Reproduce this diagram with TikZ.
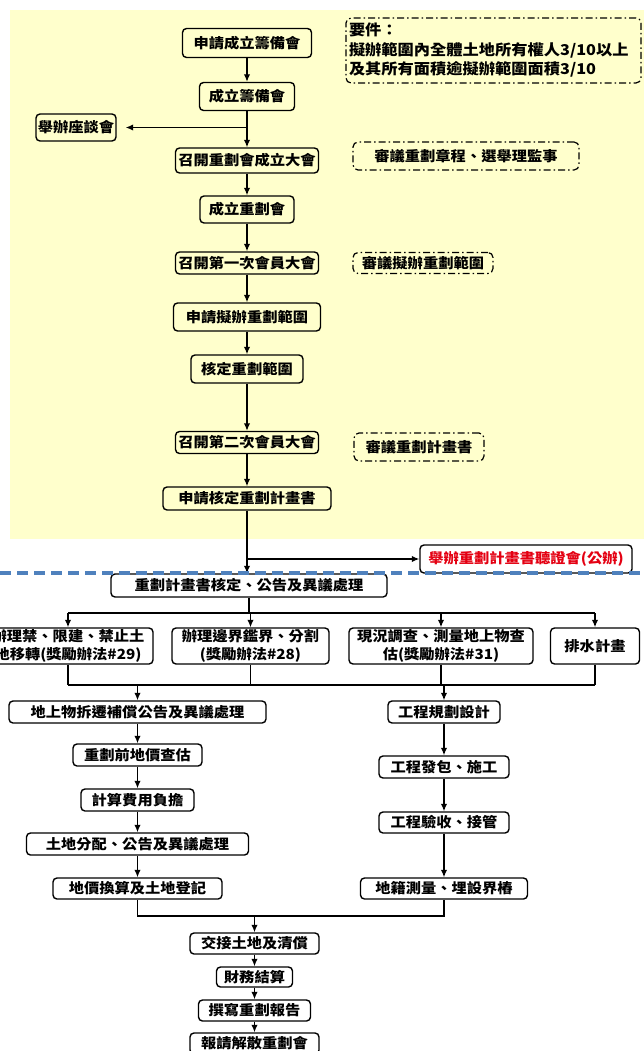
\documentclass[tikz,border=0pt]{standalone}
\usepackage{fontspec}
\setmainfont{Noto Sans CJK TC}[FakeStretch=1.09]
\usetikzlibrary{arrows.meta}
\definecolor{bgyellow}{RGB}{255,255,204}
\definecolor{dashblue}{RGB}{79,129,189}
\definecolor{hearred}{RGB}{228,0,18}
\tikzset{
  box/.style={draw, line width=1.4pt, rounded corners=4pt, inner sep=0pt, align=center,
    font=\bfseries\fontsize{14}{18}\selectfont},
  wbox/.style={box, fill=white},
  note/.style={draw, line width=1.2pt, rounded corners=5pt,
    dash pattern=on 7pt off 3pt on 1.5pt off 3pt, inner sep=0pt, align=center,
    font=\bfseries\fontsize{14}{18}\selectfont},
  arr/.style={line width=1.4pt, -{Latex[length=7.5pt,width=6.5pt]}},
  ln/.style={line width=1.4pt},
}
\begin{document}
\begin{tikzpicture}[x=1pt,y=-1pt]
\useasboundingbox (0,0) rectangle (644,1051);
\fill[bgyellow] (10,10) rectangle (644,539);

% ---- top section ----
\node[box, minimum width=129pt, minimum height=29pt] (n1) at (247,43) {申請成立籌備會};
\node[box, minimum width=95pt, minimum height=28pt] (n2) at (247,96.5) {成立籌備會};
\node[box, minimum width=80pt, minimum height=27pt] (side) at (76,127.5) {舉辦座談會};
\node[box, minimum width=143pt, minimum height=25pt] (n3) at (247,160.5) {召開重劃會成立大會};
\node[box, minimum width=94pt, minimum height=27pt] (n4) at (247,209.5) {成立重劃會};
\node[box, minimum width=143pt, minimum height=22pt] (n5) at (247,263) {召開第一次會員大會};
\node[box, minimum width=147pt, minimum height=28pt] (n6) at (247,317) {申請擬辦重劃範圍};
\node[box, minimum width=112pt, minimum height=28pt] (n7) at (247,369) {核定重劃範圍};
\node[box, minimum width=143pt, minimum height=22pt] (n8) at (247,442.5) {召開第二次會員大會};
\node[box, minimum width=168pt, minimum height=23pt] (n9) at (247,498.5) {申請核定重劃計畫書};

\node[note, minimum width=295pt, minimum height=65pt, text width=289pt, align=left,
  font=\bfseries\fontsize{14.9}{19.5}\selectfont] (note1) at (493.5,50.5)
  {要件：\\擬辦範圍內全體土地所有權人3/10以上\\及其所有面積逾擬辦範圍面積3/10};
\node[note, minimum width=226pt, minimum height=28pt] (note2) at (466,156) {審議重劃章程、選舉理監事};
\node[note, minimum width=140pt, minimum height=21pt] (note3) at (423,263) {審議擬辦重劃範圍};
\node[note, minimum width=130pt, minimum height=28pt] (note4) at (419,447) {審議重劃計畫書};

\node[wbox, minimum width=212pt, minimum height=28pt, text=hearred] (hear) at (526,559) {舉辦重劃計畫書聽證會(公辦)};

\draw[arr] (n1.south) -- (n2.north);
\draw[arr] (n2.south) -- (n3.north);
\coordinate (sb) at (n2.south |- side.east);
\draw[arr, shorten >=9pt] (sb) -- (side.east);
\draw[arr] (n3.south) -- (n4.north);
\draw[arr] (n4.south) -- (n5.north);
\draw[arr] (n5.south) -- (n6.north);
\draw[arr] (n6.south) -- (n7.north);
\draw[arr] (n7.south) -- (n8.north);
\draw[arr] (n8.south) -- (n9.north);

% ---- lower section ----
\node[wbox, minimum width=276pt, minimum height=23pt] (m1) at (249,585.5) {重劃計畫書核定、公告及異議處理};
\node[wbox, minimum width=170pt, minimum height=36pt] (a) at (68,646) {辦理禁、限建、禁止土\\地移轉(獎勵辦法\#29)};
\node[wbox, minimum width=157pt, minimum height=36pt] (b) at (250.5,646) {辦理邊界鑑界、分割\\(獎勵辦法\#28)};
\node[wbox, minimum width=184pt, minimum height=36pt] (c) at (441,646) {現況調查、測量地上物查\\估(獎勵辦法\#31)};
\node[wbox, minimum width=89pt, minimum height=36pt] (d) at (595,646) {排水計畫};

\node[wbox, minimum width=257pt, minimum height=22pt] (e) at (137.5,712) {地上物拆遷補償公告及異議處理};
\node[wbox, minimum width=112pt, minimum height=22pt] (f) at (444,712) {工程規劃設計};
\node[wbox, minimum width=129pt, minimum height=22pt] (g) at (137.5,755) {重劃前地價查估};
\node[wbox, minimum width=113pt, minimum height=22pt] (h) at (137.5,800) {計算費用負擔};
\node[wbox, minimum width=222pt, minimum height=22pt] (i) at (137.5,844) {土地分配、公告及異議處理};
\node[wbox, minimum width=169pt, minimum height=21pt] (j) at (137.5,888.5) {地價換算及土地登記};
\node[wbox, minimum width=130pt, minimum height=22pt] (k) at (444,767) {工程發包、施工};
\node[wbox, minimum width=130pt, minimum height=21pt] (l) at (444,822.5) {工程驗收、接管};
\node[wbox, minimum width=167pt, minimum height=21pt] (mm) at (444,888.5) {地籍測量、埋設界樁};

\node[wbox, minimum width=129pt, minimum height=21pt] (p) at (254.5,943.5) {交接土地及清償};
\node[wbox, minimum width=76pt, minimum height=20pt] (q) at (254.5,977) {財務結算};
\node[wbox, minimum width=112pt, minimum height=21pt] (r) at (254.5,1010.5) {撰寫重劃報告};
\node[wbox, minimum width=129pt, minimum height=21pt] (s) at (254.5,1043.5) {報請解散重劃會};

\coordinate (hb) at (n9.south |- hear.west);
\draw[arr] (hb) -- (hear.west);
\draw[arr] (n9.south) -- (n9.south |- m1.north);

\coordinate (b1) at (249,613);
\coordinate (b2) at (249,685);
\coordinate (b3) at (254.5,916);
\draw[ln] (m1.south) -- (m1.south |- b1);
\draw[ln] (a.north |- b1) -- (d.north |- b1);
\foreach \t in {a,b,c,d} { \draw[arr] (\t.north |- b1) -- (\t.north); }
\foreach \t in {a,b,c,d} { \draw[ln] (\t.south) -- (\t.south |- b2); }
\draw[ln] (a.south |- b2) -- (d.south |- b2);
\draw[arr] (e.north |- b2) -- (e.north);
\draw[arr] (f.north |- b2) -- (f.north);

\draw[arr] (e.south) -- (g.north);
\draw[arr] (g.south) -- (h.north);
\draw[arr] (h.south) -- (i.north);
\draw[arr] (i.south) -- (j.north);
\draw[arr] (f.south) -- (k.north);
\draw[arr] (k.south) -- (l.north);
\draw[arr] (l.south) -- (mm.north);

\draw[ln] (j.south) -- (j.south |- b3) -- (mm.south |- b3) -- (mm.south);
\draw[arr] (p.north |- b3) -- (p.north);
\draw[arr] (p.south) -- (q.north);
\draw[arr] (q.south) -- (r.north);
\draw[arr] (r.south) -- (s.north);

\draw[dashblue, line width=3.5pt, dash pattern=on 11pt off 6pt] (0,573) -- (644,573);
\end{tikzpicture}
\end{document}
